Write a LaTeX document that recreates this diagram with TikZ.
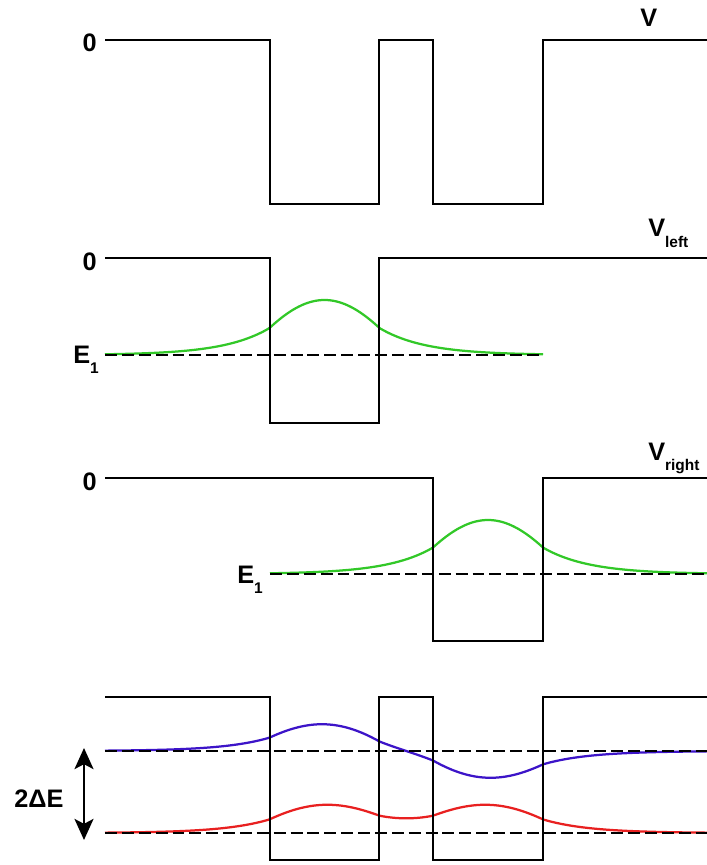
\documentclass[tikz,border=0pt]{standalone}
\usepackage{fontspec}
\setmainfont{Liberation Sans}
\usetikzlibrary{arrows.meta}

\definecolor{wavegreen}{RGB}{50,200,40}
\definecolor{waveblue}{RGB}{60,20,200}
\definecolor{wavered}{RGB}{232,32,32}

\newcommand{\lowsub}[1]{\raisebox{-0.8ex}{\fontsize{11}{12}\selectfont #1}}

\begin{document}
\begin{tikzpicture}[
    x=0.025cm, y=-0.025cm,
    >={Stealth[length=15pt,width=13.5pt,inset=3.5pt]},
    pot/.style  = {line width=2.1pt, black},
    lvl/.style  = {line width=2.1pt, black, dash pattern=on 8.5pt off 3.5pt},
    wave/.style = {line width=1.6pt, samples=200},
    lbl/.style  = {font=\fontsize{18}{20}\selectfont\bfseries, inner sep=0pt},
    declare function={wf(\x,\c)=(abs(\x-\c)<55) ? cos(1.1023*(\x-\c)) : 0.49*exp(-0.022*(abs(\x-\c)-55));}
  ]
  \useasboundingbox (0,0) rectangle (707,865);

  %–––– full double well ––––
  \draw[pot] (105,40) -| (270,204) -| (379,40) -| (433,204) -| (543,40) -- (707,40);
  \node[lbl,anchor=base east] (zeroA) at (97,52) {0};
  \node[lbl,anchor=base west] (V) at (640,27) {V};

  %–––– left well only ––––
  \draw[wave,wavegreen] plot[domain=105:543] (\x,{355-55*wf(\x,324.5)});
  \draw[pot] (105,258) -| (270,423) -| (379,258) -- (707,258);
  \draw[lvl] (105,355) -- (543,355);
  \node[lbl,anchor=base east] (zeroB) at (97,270) {0};
  \node[lbl,anchor=base west] (Vleft) at (648,237) {V\lowsub{left}};
  \node[lbl,anchor=base west] (EA) at (73,363) {E\lowsub{1}};

  %–––– right well only ––––
  \draw[wave,wavegreen] plot[domain=270:707] (\x,{574-54*wf(\x,488)});
  \draw[pot] (105,478) -| (433,641) -| (543,478) -- (707,478);
  \draw[lvl] (270,574) -- (707,574);
  \node[lbl,anchor=base east] (zeroC) at (97,490) {0};
  \node[lbl,anchor=base west] (Vright) at (648,460) {V\lowsub{right}};
  \node[lbl,anchor=base west] (EB) at (237,583) {E\lowsub{1}};

  %–––– coupled wells: split levels ––––
  \draw[wave,waveblue] plot[domain=105:707] (\x,{751-28*(wf(\x,324.5)-wf(\x,488))});
  \draw[wave,wavered] plot[domain=105:707] (\x,{833-27*(wf(\x,324.5)+wf(\x,488))});
  \draw[pot] (105,697) -| (270,860) -| (379,697) -| (433,860) -| (543,697) -- (707,697);
  \draw[lvl] (105,751) -- (707,751);
  \draw[lvl] (105,833) -- (707,833);

  % splitting arrow
  \coordinate (splitTop) at (84,748);
  \coordinate (splitBot) at (84,840);
  \draw[line width=1.6pt,<->] (splitTop) -- (splitBot);
  \node[lbl,anchor=base west] (dE) at (14,807) {2ΔE};

\end{tikzpicture}
\end{document}
